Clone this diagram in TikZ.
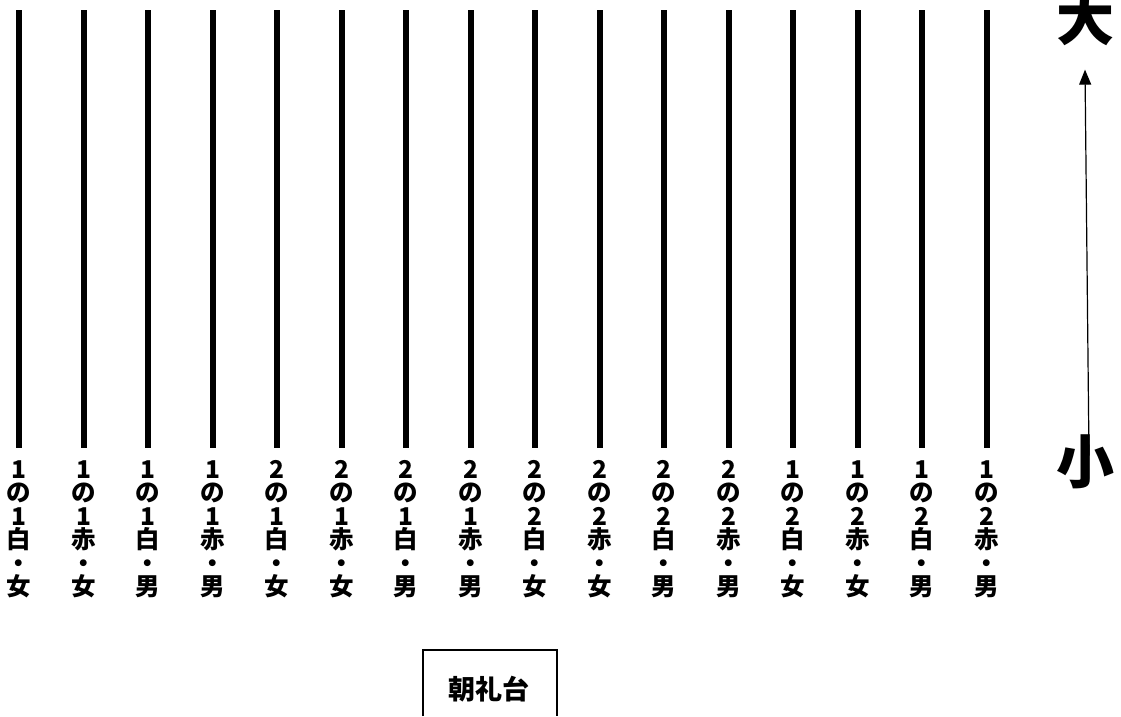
\documentclass[tikz,border=0pt]{standalone}
\usepackage{fontspec}
\newfontfamily\cjk{Noto Sans CJK JP}
\usetikzlibrary{arrows.meta}

\tikzset{
  lane/.style={line width=6pt},
  lanelabel/.style={anchor=north,align=center,inner sep=0pt,font=\cjk\bfseries\fontsize{24.5}{23.5}\selectfont},
  bigword/.style={inner sep=0pt,font=\cjk\bfseries\fontsize{58}{58}\selectfont}
}

\begin{document}
\begin{tikzpicture}[x=1pt,y=-1pt]
	\useasboundingbox (0,0) rectangle (1121,716);
	% lanes and their labels
	\foreach \a/\b/\c/\d [count=\i from 0] in {1/1/白/女,1/1/赤/女,1/1/白/男,1/1/赤/男,2/1/白/女,2/1/赤/女,2/1/白/男,2/1/赤/男,2/2/白/女,2/2/赤/女,2/2/白/男,2/2/赤/男,1/2/白/女,1/2/赤/女,1/2/白/男,1/2/赤/男}{
		\coordinate (top\i) at (19+64.5*\i,10);
		\coordinate (bot\i) at (19+64.5*\i,448);
		\draw [lane] (top\i) -- (bot\i);
		\node [lanelabel] (lbl\i) at (19+64.5*\i,460) {\a\\の\\\b\\\c\\・\\\d};
	}
	% size arrow
	\node [bigword] (big) at (1085,18) {大};
	\node [bigword] (small) at (1085,462) {小};
	\draw [-{Triangle[length=15pt,width=12pt]},line width=1.2pt] ([xshift=4pt,yshift=-21pt]small.north) -- ([yshift=-24pt]big.south);
	% stand
	\node [inner sep=0pt,font=\cjk\bfseries\fontsize{27}{27}\selectfont] (stand) at (489,689) {朝礼台};
	\draw [line width=2pt] (423,716) -- (423,650) -- (557,650) -- (557,716);
\end{tikzpicture}
\end{document}
